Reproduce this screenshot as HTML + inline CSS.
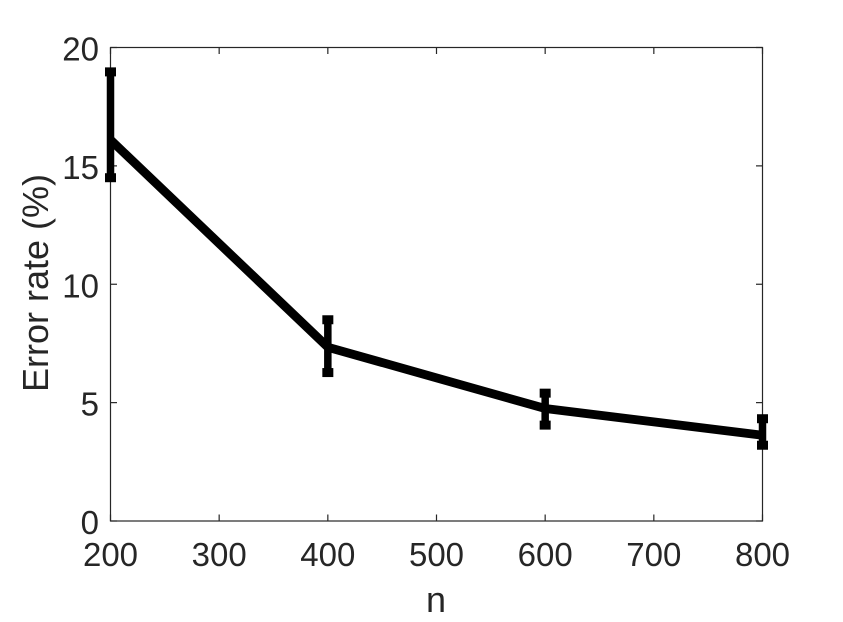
<!DOCTYPE html>
<html>
<head>
<meta charset="utf-8">
<style>
html,body{margin:0;padding:0;background:#fff;}
svg{display:block;}
text{font-family:"Liberation Sans",Arial,sans-serif;fill:#262626;}
</style>
</head>
<body>
<svg id="chart" width="843" height="622" viewBox="0 0 843 622" xmlns="http://www.w3.org/2000/svg"></svg>
<script>
const nValues = [200, 400, 600, 800];
const errorRate = [16.1, 7.34, 4.75, 3.62];
const errorUpper = [18.97, 8.5, 5.4, 4.32];
const errorLower = [14.5, 6.27, 4.05, 3.2];
const xTickValues = [200, 300, 400, 500, 600, 700, 800];
const yTickValues = [0, 5, 10, 15, 20];
const xDomain = [200, 800];
const yDomain = [0, 20];

const svg = document.getElementById('chart');
const NS = 'http://www.w3.org/2000/svg';
const plot = { left: 110.5, right: 762.5, top: 47.5, bottom: 521 };
function xScale(v) {
  return plot.left + (v - xDomain[0]) / (xDomain[1] - xDomain[0]) * (plot.right - plot.left);
}
function yScale(v) {
  return plot.bottom - (v - yDomain[0]) / (yDomain[1] - yDomain[0]) * (plot.bottom - plot.top);
}
function make(tag, attrs, parent) {
  const el = document.createElementNS(NS, tag);
  for (const k in attrs) el.setAttribute(k, attrs[k]);
  (parent || svg).appendChild(el);
  return el;
}

const axisGroup = make('g', { stroke: '#262626', 'stroke-width': 1.2, fill: 'none' });


const frame = make('rect', { x: plot.left, y: plot.top, width: plot.right - plot.left, height: plot.bottom - plot.top }, axisGroup);



const tickLen = 6.5;
xTickValues.forEach(function (v) {
  const x = xScale(v);
  const tickBottom = make('line', { x1: x, x2: x, y1: plot.bottom, y2: plot.bottom - tickLen }, axisGroup);
  
  
  const tickTop = make('line', { x1: x, x2: x, y1: plot.top, y2: plot.top + tickLen }, axisGroup);
  
  
  const label = make('text', { x: x, y: 566, 'text-anchor': 'middle', 'font-size': 33 });
  
  
  label.textContent = v;
});
yTickValues.forEach(function (v) {
  const y = yScale(v);
  const tickLeft = make('line', { x1: plot.left, x2: plot.left + tickLen, y1: y, y2: y }, axisGroup);
  
  
  const tickRight = make('line', { x1: plot.right, x2: plot.right - tickLen, y1: y, y2: y }, axisGroup);
  
  
  const label = make('text', { x: 99, y: y + 13, 'text-anchor': 'end', 'font-size': 33 });
  
  
  label.textContent = v;
});

const xTitle = make('text', { x: 436, y: 612, 'text-anchor': 'middle', 'font-size': 36 });


xTitle.textContent = 'n';

const yTitle = make('text', { x: 0, y: 0, 'text-anchor': 'middle', 'font-size': 36, transform: 'translate(48 283) rotate(-90)' });


yTitle.textContent = 'Error rate (%)';

const seriesLine = make('polyline', {
  points: nValues.map(function (n, i) { return xScale(n) + ',' + yScale(errorRate[i]); }).join(' '),
  fill: 'none', stroke: '#000', 'stroke-width': 8.8, 'stroke-linejoin': 'round'
});



const capHalf = 5.5;
nValues.forEach(function (n, i) {
  const x = xScale(n);
  const yTop = yScale(errorUpper[i]);
  const yBottom = yScale(errorLower[i]);
  const bar = make('g', { stroke: '#000', fill: 'none' });
  
  
  make('line', { x1: x, x2: x, y1: yTop, y2: yBottom, 'stroke-width': 7.5 }, bar);
  make('line', { x1: x - capHalf, x2: x + capHalf, y1: yTop, y2: yTop, 'stroke-width': 9 }, bar);
  make('line', { x1: x - capHalf, x2: x + capHalf, y1: yBottom, y2: yBottom, 'stroke-width': 9 }, bar);
});
</script>
</body>
</html>
